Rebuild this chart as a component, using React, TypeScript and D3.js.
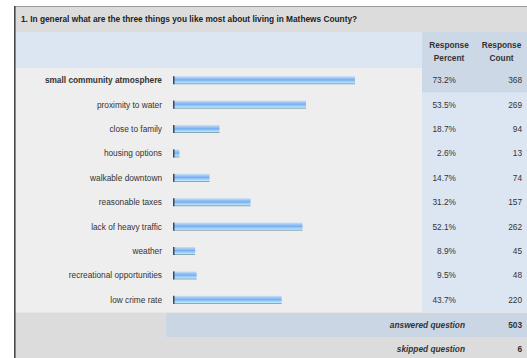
import React from "react";
import * as d3 from "d3";

const title = "1. In general what are the three things you like most about living in Mathews County?";
const categories = [
  "small community atmosphere",
  "proximity to water",
  "close to family",
  "housing options",
  "walkable downtown",
  "reasonable taxes",
  "lack of heavy traffic",
  "weather",
  "recreational opportunities",
  "low crime rate",
];
const percents = [73.2, 53.5, 18.7, 2.6, 14.7, 31.2, 52.1, 8.9, 9.5, 43.7];
const counts = [368, 269, 94, 13, 74, 157, 262, 45, 48, 220];
const answered = 503;
const skipped = 6;

const W = 527;
const H = 358;
const FONT = "'Liberation Sans', Arial, sans-serif";
const FS = 8.3;

export default function App() {
  const left = 14;
  const rowsTop = 68;
  const rowsBottom = 312;
  const y = d3.scaleBand<string>().domain(categories).range([rowsTop, rowsBottom]);
  const x = d3.scaleLinear().domain([0, 100]).range([173, 421.6]);
  const colP0 = 422;
  const colC0 = 474;
  const barH = 8;

  return (
    <svg width={W} height={H} style={{ position: "absolute", left: 0, top: 0 }} fontFamily={FONT}>
      <defs>
        <linearGradient id="barg" x1="0" y1="0" x2="0" y2="1">
          <stop offset="0" stopColor="#c8def9" />
          <stop offset="0.2" stopColor="#a6cbf7" />
          <stop offset="0.45" stopColor="#78aeef" />
          <stop offset="0.6" stopColor="#90c3f7" />
          <stop offset="0.85" stopColor="#bbe9fe" />
          <stop offset="1" stopColor="#cbf5ff" />
        </linearGradient>
      </defs>
      <rect x={0} y={0} width={W} height={H} fill="#ffffff" />
      {/* title band */}
      <rect x={left} y={7} width={W - left} height={25} fill="#dcdcdc" />
      <line x1={left} x2={W} y1={6.5} y2={6.5} stroke="#9a9a9a" strokeWidth={1} />
      <text x={21} y={22} fontSize={FS} fontWeight="bold" fill="#222">{title}</text>
      {/* header */}
      <rect x={left} y={32} width={W - left} height={36} fill="#dce6f3" />
      <rect x={colP0} y={32} width={W - colP0} height={36} fill="#cdd8e6" />
      {[["Response", "Percent", (colP0 + colC0) / 2 + 1], ["Response", "Count", (colC0 + W) / 2 + 1]].map(([a, b, cx], i) => (
        <g key={i}>
          <text x={cx as number} y={48} fontSize={FS} fontWeight="bold" fill="#333" textAnchor="middle">{a}</text>
          <text x={cx as number} y={61} fontSize={FS} fontWeight="bold" fill="#333" textAnchor="middle">{b}</text>
        </g>
      ))}
      {/* body */}
      <rect x={left} y={rowsTop} width={colP0 - left} height={rowsBottom - rowsTop} fill="#eeeeee" />
      <rect x={colP0} y={rowsTop} width={W - colP0} height={rowsBottom - rowsTop} fill="#dce6f3" />
      {categories.map((c, i) => {
        const yy = y(c)!;
        const cy = yy + y.bandwidth() / 2;
        const bx = x(0);
        const bw = x(percents[i]) - x(0);
        return (
          <g key={c}>
            {i === 0 && <rect x={colP0} y={yy} width={W - colP0} height={y.bandwidth()} fill="#cdd8e6" />}
            <text x={162} y={cy + 3} fontSize={FS} fontWeight={i === 0 ? "bold" : "normal"} fill="#333" textAnchor="end">{c}</text>
            <rect x={bx} y={cy - barH / 2} width={bw} height={barH} fill="url(#barg)" />
            <rect x={bx} y={cy - barH / 2} width={1.5} height={barH} fill="#3b4a5c" />
            <rect x={bx} y={cy + barH / 2 - 0.8} width={bw} height={0.8} fill="#3b4a5c" opacity={0.55} />
            <text x={456} y={cy + 3} fontSize={FS} fill="#333" textAnchor="end">{percents[i].toFixed(1)}%</text>
            <text x={522} y={cy + 3} fontSize={FS} fill="#333" textAnchor="end">{counts[i]}</text>
          </g>
        );
      })}
      {/* footer */}
      <rect x={left} y={rowsBottom} width={W - left} height={H - rowsBottom} fill="#dcdcdc" />
      <rect x={166} y={rowsBottom + 1} width={W - 166} height={24} fill="#cbd6e4" />
      <line x1={left} x2={W} y1={rowsBottom + 0.5} y2={rowsBottom + 0.5} stroke="#e6e6e6" strokeWidth={1} />
      <text x={465} y={rowsBottom + 16} fontSize={FS} fontWeight="bold" fontStyle="italic" fill="#333" textAnchor="end">answered question</text>
      <text x={522} y={rowsBottom + 16} fontSize={FS} fontWeight="bold" fill="#333" textAnchor="end">{answered}</text>
      <text x={465} y={rowsBottom + 40} fontSize={FS} fontWeight="bold" fontStyle="italic" fill="#333" textAnchor="end">skipped question</text>
      <text x={522} y={rowsBottom + 40} fontSize={FS} fontWeight="bold" fill="#333" textAnchor="end">{skipped}</text>
      {/* left border */}
      <rect x={left} y={6} width={1.6} height={H - 6} fill="#4a4a4a" />
    </svg>
  );
}
